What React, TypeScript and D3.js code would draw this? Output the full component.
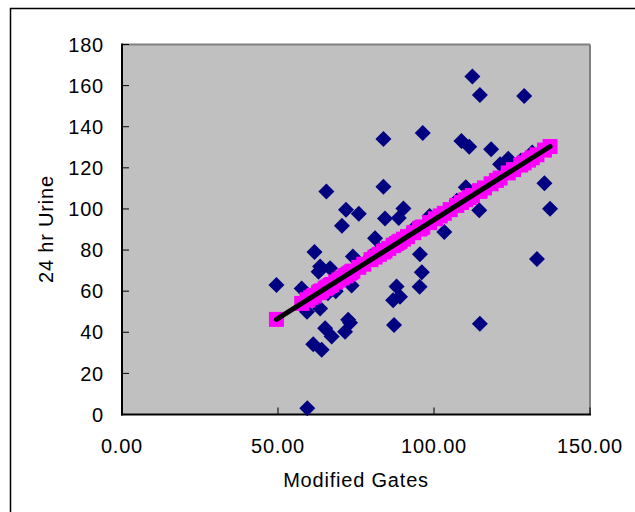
import React from "react";
import * as d3 from "d3";

const xValues: number[] = [
  49.5, 57.6, 59.4, 59.3, 61.7, 63.5, 63.0, 66.7, 65.5, 63.5, 61.3, 64.0, 65.1, 67.2,
  71.8, 75.9, 70.5, 74.0, 73.6, 68.5, 72.5, 73.1, 71.5, 81.1, 83.8, 83.8, 84.3, 88.7,
  90.2, 88.0, 86.9, 89.1, 87.2, 96.4, 95.5, 96.1, 95.4, 98.6, 103.3, 108.8, 111.3, 112.3,
  114.7, 128.9, 118.3, 121.2, 123.8, 114.5, 114.7, 135.4, 137.2, 133.0, 110.2,
  77.5, 79.8, 82.5, 91.5, 93.5, 100.5, 102.0, 105.2, 107.3, 116.2, 125.5, 127.8, 130.3,
  131.5, 69.5, 60.5, 66.0, 85.5, 120.0,
];
const yValues: number[] = [
  63.0, 61.3, 3.1, 50.0, 79.0, 72.0, 69.5, 71.2, 108.5, 51.6, 34.2, 31.5, 42.0, 38.0,
  99.6, 97.7, 91.8, 76.9, 62.8, 60.0, 46.1, 44.6, 40.2, 85.8, 134.0, 110.8, 95.3, 95.6,
  100.2, 62.3, 55.6, 57.3, 43.6, 136.9, 77.9, 69.2, 62.2, 96.6, 88.8, 133.0, 130.3, 164.4,
  155.4, 154.9, 129.0, 121.8, 124.4, 99.4, 44.1, 112.5, 100.1, 75.6, 110.5,
  72.5, 77.0, 80.0, 87.0, 90.5, 96.0, 97.5, 100.0, 104.0, 110.0, 120.0, 123.5, 125.0,
  127.5, 64.0, 57.0, 59.0, 82.0, 114.0,
];
const trendSlope = 0.959;
const trendIntercept = -1.2;
const xTicks: number[] = [0, 50, 100, 150];
const yTicks: number[] = [0, 20, 40, 60, 80, 100, 120, 140, 160, 180];
const xTitle = "Modified Gates";
const yTitle = "24 hr Urine";

export default function App() {
  const W = 635, H = 512;
  const left = 122, right = 590, top = 44.5, bottom = 414.5;
  const x = d3.scaleLinear().domain([0, 150]).range([left, right]);
  const y = d3.scaleLinear().domain([0, 180]).range([bottom, top]);
  const pts = xValues.map((v, i) => ({ x: v, y: yValues[i] }));
  const pred = xValues.map((v) => ({ x: v, y: trendSlope * v + trendIntercept }));
  const xmin = d3.min(xValues) as number;
  const xmax = d3.max(xValues) as number;
  const line = d3.line<{ x: number; y: number }>().x((d) => x(d.x)).y((d) => y(d.y));
  const lineData = [
    { x: xmin, y: trendSlope * xmin + trendIntercept },
    { x: xmax, y: trendSlope * xmax + trendIntercept },
  ];
  const font = "'Liberation Sans', Arial, sans-serif";
  const dS = 8;
  const sq = 15;
  return (
    <svg width={W} height={H} style={{ position: "absolute", left: 0, top: 0, background: "#fff" }}>
      <rect x={0} y={0} width={W} height={H} fill="#fff" />
      <rect x={10.5} y={8.5} width={700} height={600} fill="none" stroke="#000" strokeWidth={1.5} />
      <rect x={left} y={top} width={right - left} height={bottom - top} fill="#C0C0C0" />
      <line x1={left} y1={top} x2={right} y2={top} stroke="#808080" strokeWidth={2} />
      <line x1={right} y1={top} x2={right} y2={bottom} stroke="#808080" strokeWidth={2} />
      <line x1={left} y1={top - 1} x2={left} y2={bottom + 1} stroke="#000" strokeWidth={2} />
      <line x1={left - 1} y1={bottom} x2={right + 1} y2={bottom} stroke="#000" strokeWidth={2} />
      {yTicks.map((t) => (
        <g key={"y" + t}>
          <line x1={left} x2={left + 7} y1={y(t)} y2={y(t)} stroke="#000" strokeWidth={1} />
          <text x={104} y={y(t)} dy="0.36em" textAnchor="end" fontFamily={font} fontSize={20} letterSpacing={0.8} fill="#000">
            {t}
          </text>
        </g>
      ))}
      {xTicks.map((t) => (
        <g key={"x" + t}>
          <line x1={x(t)} x2={x(t)} y1={bottom} y2={bottom - 7} stroke="#000" strokeWidth={1} />
          <text x={x(t)} y={453} textAnchor="middle" fontFamily={font} fontSize={20} letterSpacing={0.8} fill="#000">
            {t.toFixed(2)}
          </text>
        </g>
      ))}
      <text x={356} y={487} textAnchor="middle" fontFamily={font} fontSize={20} letterSpacing={0.8} fill="#000">
        {xTitle}
      </text>
      <text transform={`translate(53,229) rotate(-90)`} textAnchor="middle" fontFamily={font} fontSize={20} letterSpacing={0.8} fill="#000">
        {yTitle}
      </text>
      {pts.map((p, i) => (
        <path
          key={"d" + i}
          d={`M${x(p.x)},${y(p.y) - dS}L${x(p.x) + dS},${y(p.y)}L${x(p.x)},${y(p.y) + dS}L${x(p.x) - dS},${y(p.y)}Z`}
          fill="#000080"
        />
      ))}
      {pred.map((p, i) => (
        <rect key={"s" + i} x={x(p.x) - sq / 2} y={y(p.y) - sq / 2} width={sq} height={sq} fill="#FF00FF" />
      ))}
      <path d={line(lineData) || ""} stroke="#000" strokeWidth={5} strokeLinecap="round" fill="none" />
    </svg>
  );
}
